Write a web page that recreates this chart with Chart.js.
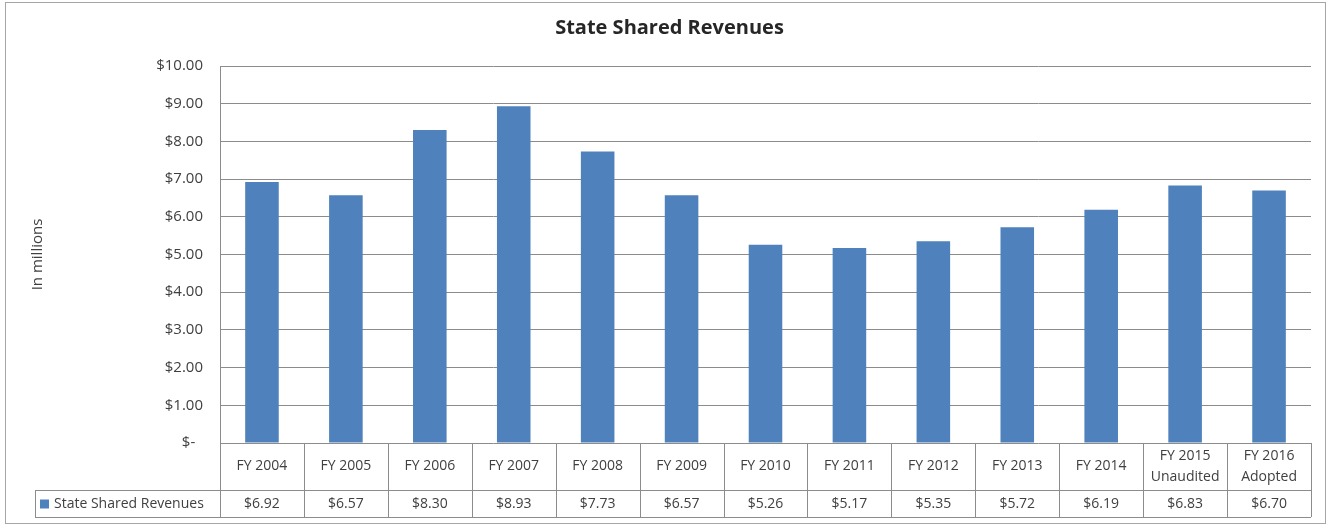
<!DOCTYPE html>
<html>
<head>
<meta charset="utf-8">
<script src="https://cdn.jsdelivr.net/npm/chart.js@4.4.1/dist/chart.umd.min.js"></script>
<style>
  html, body { margin:0; padding:0; background:#fff; }
  #wrap { position:relative; width:1330px; height:527px; }
  #frame { position:absolute; left:5px; top:2px; width:1319px; height:520px; border:1px solid #a6a6a6; pointer-events:none; }
  canvas { position:absolute; left:0; top:0; }
</style>
</head>
<body>
<div id="wrap">
  <canvas id="chart" width="1330" height="527"></canvas>
  <div id="frame"></div>
</div>
<script>
// State Shared Revenues, in millions
const categories = [
  ['FY 2004'], ['FY 2005'], ['FY 2006'], ['FY 2007'], ['FY 2008'], ['FY 2009'],
  ['FY 2010'], ['FY 2011'], ['FY 2012'], ['FY 2013'], ['FY 2014'],
  ['FY 2015', 'Unaudited'], ['FY 2016', 'Adopted']
];
const revenues = [6.92, 6.57, 8.30, 8.93, 7.73, 6.57, 5.26, 5.17, 5.35, 5.72, 6.19, 6.83, 6.70];
const seriesName = 'State Shared Revenues';
const yTicks = [0, 1, 2, 3, 4, 5, 6, 7, 8, 9, 10];

const FONT = '"Open Sans", Lato, sans-serif';
const BAR = '#4f81bd';
const LINE = '#8c8c8c';
const TEXT = '#404040';

function money(v) {
  return v === 0 ? '$-  ' : '$' + v.toFixed(2);
}

// draws the data table under the plot area
const dataTable = {
  id: 'dataTable',
  afterDraw(chart) {
    const ctx = chart.ctx;
    const area = chart.chartArea;
    const x = chart.scales.x;
    const n = categories.length;
    const w = (area.right - area.left) / n;
    const top = area.bottom, mid = area.bottom + 47, bot = area.bottom + 74;
    const legLeft = 35;

    ctx.save();
    ctx.strokeStyle = LINE;
    ctx.lineWidth = 1;
    ctx.beginPath();
    // horizontal lines
    ctx.moveTo(legLeft, mid + 0.5); ctx.lineTo(area.right, mid + 0.5);
    ctx.moveTo(legLeft, bot + 0.5); ctx.lineTo(area.right, bot + 0.5);
    ctx.moveTo(legLeft + 0.5, mid); ctx.lineTo(legLeft + 0.5, bot);
    // vertical separators
    for (let i = 0; i <= n; i++) {
      const xx = Math.round(area.left + i * w) + 0.5;
      ctx.moveTo(xx, top); ctx.lineTo(xx, bot);
    }
    ctx.stroke();

    ctx.fillStyle = TEXT;
    ctx.font = '14px ' + FONT;
    ctx.textAlign = 'center';
    ctx.textBaseline = 'middle';
    categories.forEach((lines, i) => {
      const cx = x.getPixelForValue(i);
      const cy = (top + mid) / 2;
      if (lines.length === 1) {
        ctx.fillText(lines[0], cx, cy);
      } else {
        ctx.fillText(lines[0], cx, cy - 10);
        ctx.fillText(lines[1], cx, cy + 11);
      }
      ctx.fillText(money(revenues[i]), cx, (mid + bot) / 2 + 1);
    });

    // legend cell
    ctx.fillStyle = BAR;
    ctx.fillRect(legLeft + 5, (mid + bot) / 2 - 4, 9, 9);
    ctx.fillStyle = TEXT;
    ctx.textAlign = 'left';
    ctx.fillText(seriesName, legLeft + 19, (mid + bot) / 2 + 1);
    ctx.restore();
  }
};

new Chart(document.getElementById('chart'), {
  type: 'bar',
  data: {
    labels: categories.map(c => c.join(' ')),
    datasets: [{
      label: seriesName,
      data: revenues,
      backgroundColor: BAR,
      barPercentage: 0.4,
      categoryPercentage: 1
    }]
  },
  options: {
    responsive: false,
    animation: false,
    layout: { padding: { left: 28, right: 19, top: 0, bottom: 84 } },
    plugins: {
      legend: { display: false },
      tooltip: { enabled: false },
      title: {
        display: true,
        text: 'State Shared Revenues',
        color: '#262626',
        font: { family: FONT, size: 20, weight: 'bold' },
        padding: { top: 16, bottom: 26 }
      }
    },
    scales: {
      x: { display: false },
      y: {
        min: 0, max: 10,
        afterBuildTicks(scale) { scale.ticks = yTicks.map(v => ({ value: v })); },
        afterFit(scale) { scale.width = 192; },
        grid: { color: LINE, drawTicks: false },
        border: { display: true, color: LINE },
        ticks: {
          padding: 17,
          color: TEXT,
          font: { family: FONT, size: 15 },
          callback: v => money(v)
        },
        title: {
          display: true,
          text: 'In millions',
          color: TEXT,
          font: { family: FONT, size: 15 },
          padding: { top: 1, bottom: 0 }
        }
      }
    }
  },
  plugins: [dataTable]
});
</script>
</body>
</html>
